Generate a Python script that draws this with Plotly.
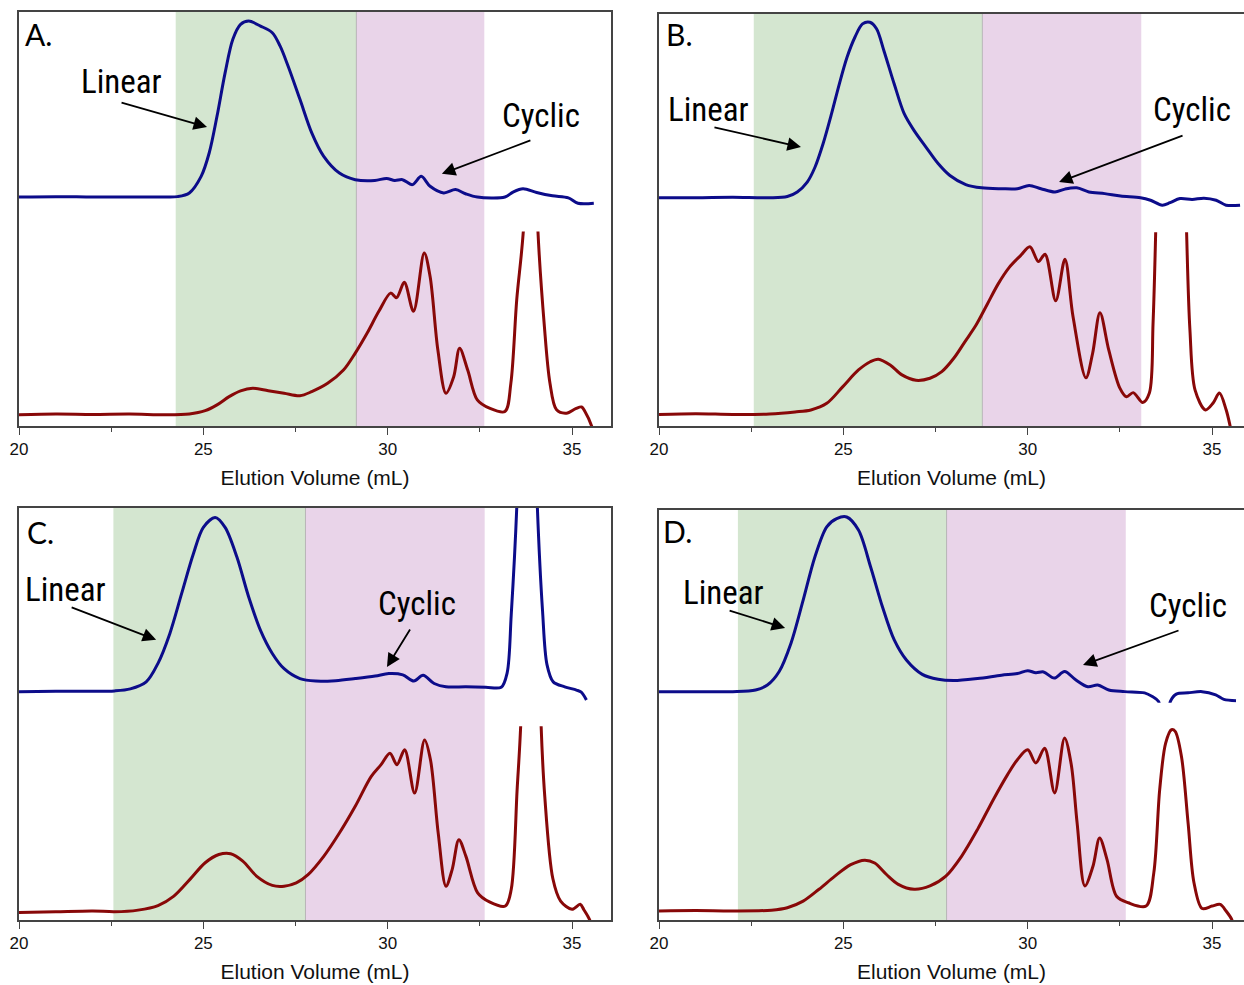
import plotly.graph_objects as go

# ======================= DATA =======================
# Signals are in "percent of panel height" units (0 = x-axis line, 100 = top frame).

# ---- Panel A ----
A_blue_x = [20.0, 21.0, 22.0, 23.0, 24.0, 24.3, 24.62, 24.94, 25.16, 25.37, 25.59, 25.8, 26.01, 26.23,
            26.55, 26.87, 27.08, 27.3, 27.62, 27.94, 28.26, 28.69, 29.12, 29.65, 29.97, 30.19, 30.4,
            30.67, 30.91, 31.15, 31.52, 31.84, 32.11, 32.43, 33.18, 33.4, 33.67, 34.04, 34.47, 34.9,
            35.16, 35.59]
A_blue_y = [55.3, 55.4, 55.3, 55.3, 55.3, 55.4, 56.3, 60.3, 66.0, 74.8, 85.3, 93.4, 97.0, 97.8,
            96.6, 95.0, 91.8, 86.9, 78.9, 70.8, 65.2, 61.1, 59.5, 59.3, 59.8, 59.3, 59.5,
            58.3, 60.3, 57.9, 56.3, 57.1, 56.1, 55.3, 55.3, 56.5, 57.3, 56.4, 55.6, 55.1,
            53.8, 53.8]
A_red_x = [20.0, 21.0, 22.0, 23.0, 24.0, 24.62, 25.05, 25.37, 25.7, 26.01, 26.34, 26.76, 27.19, 27.62,
           27.94, 28.37, 28.8, 29.12, 29.44, 29.76, 30.08, 30.24, 30.45, 30.7, 30.99, 31.15, 31.36,
           31.58, 31.79, 31.95, 32.17, 32.43, 32.76, 33.18, 33.34, 33.5, 33.7, 33.88, 34.06, 34.25,
           34.4, 34.58, 34.85, 35.1, 35.26, 35.35, 35.53, 35.6]
A_red_y = [2.7, 2.9, 2.8, 2.9, 2.7, 2.9, 3.7, 5.1, 7.1, 8.5, 9.1, 8.5, 7.9, 7.3,
           8.3, 10.3, 13.5, 17.6, 22.4, 27.7, 32.1, 31.0, 34.7, 27.7, 41.8, 36.1, 18.4,
           7.9, 11.9, 18.8, 13.5, 6.3, 4.3, 3.5, 10.3, 30.5, 50.0, 150.0, 50.0, 24.0,
           10.4, 3.9, 3.1, 4.2, 4.6, 3.5, 0.0, -3.0]

# ---- Panel B ----
B_blue_x = [20.0, 21.0, 22.0, 23.0, 23.48, 23.75, 24.02, 24.23, 24.45, 24.68, 24.89, 25.1, 25.31, 25.52,
            25.72, 25.9, 26.1, 26.38, 26.65, 26.92, 27.24, 27.57, 27.89, 28.32, 28.75, 29.29, 29.72,
            30.04, 30.36, 30.74, 31.01, 31.33, 31.66, 32.09, 32.52, 33.06, 33.33, 33.65, 33.86, 34.13,
            34.46, 34.78, 35.11, 35.38, 35.76]
B_blue_y = [55.4, 55.4, 55.5, 55.4, 55.7, 56.8, 59.2, 62.8, 68.5, 75.8, 83.0, 89.5, 94.3, 97.6,
            98.0, 96.4, 91.1, 83.0, 75.8, 71.7, 67.7, 63.7, 60.8, 58.6, 57.8, 57.6, 57.6,
            58.4, 57.6, 56.8, 57.5, 57.8, 56.8, 56.4, 55.8, 55.4, 54.8, 53.6, 54.2, 55.2,
            55.0, 55.3, 54.8, 53.6, 53.6]
B_red_x = [20.0, 21.0, 22.0, 23.0, 23.69, 24.12, 24.55, 24.98, 25.41, 25.73, 25.95, 26.27, 26.59, 26.97,
           27.35, 27.67, 28.0, 28.3, 28.6, 28.9, 29.2, 29.5, 29.8, 30.06, 30.29, 30.47, 30.76,
           31.01, 31.23, 31.58, 31.76, 31.96, 32.2, 32.5, 32.68, 32.86, 33.12, 33.3, 33.4, 33.48,
           33.88, 34.3, 34.4, 34.54, 34.82, 35.03, 35.2, 35.38, 35.49, 35.6]
B_red_y = [2.8, 3.0, 2.8, 2.9, 3.4, 3.9, 5.5, 9.5, 13.6, 15.6, 16.2, 14.8, 12.4, 11.1,
           11.6, 13.2, 16.5, 20.5, 24.5, 29.5, 34.5, 38.5, 41.3, 43.5, 39.9, 41.7, 30.4,
           40.5, 26.5, 11.7, 17.6, 27.5, 18.4, 9.2, 7.1, 8.1, 5.7, 8.0, 25.0, 50.0,
           200.0, 50.0, 23.3, 8.7, 3.9, 5.6, 8.0, 4.0, 0.0, -5.0]

# ---- Panel C ----
C_blue_x = [20.0, 21.0, 22.0, 22.59, 23.02, 23.45, 23.77, 24.09, 24.41, 24.73, 25.0, 25.32, 25.59, 25.91,
            26.23, 26.55, 26.87, 27.19, 27.62, 28.05, 28.59, 29.12, 29.66, 30.03, 30.41, 30.71, 30.96,
            31.26, 31.58, 32.12, 32.66, 33.08, 33.24, 33.35, 33.5, 33.78, 34.06, 34.2, 34.32, 34.49,
            34.8, 35.12, 35.25, 35.39]
C_blue_y = [55.4, 55.5, 55.5, 55.6, 56.1, 57.8, 62.3, 69.5, 79.2, 88.9, 95.3, 97.7, 95.3, 88.1,
            78.4, 70.3, 64.7, 61.0, 58.6, 58.0, 58.1, 58.6, 59.2, 59.8, 59.5, 58.0, 59.4,
            57.4, 56.6, 56.6, 56.5, 56.5, 60.0, 74.0, 100.0, 190.0, 100.0, 75.0, 62.0, 57.8,
            56.6, 55.8, 55.3, 53.4]
C_red_x = [20.0, 21.0, 22.0, 22.59, 23.23, 23.77, 24.2, 24.63, 25.05, 25.42, 25.74, 26.07, 26.45, 26.87,
           27.19, 27.52, 27.84, 28.27, 28.69, 29.12, 29.55, 29.82, 30.06, 30.25, 30.46, 30.73, 31.0,
           31.16, 31.37, 31.58, 31.75, 31.93, 32.12, 32.44, 32.76, 33.19, 33.35, 33.51, 33.62, 33.9,
           34.15, 34.26, 34.48, 34.69, 35.0, 35.22, 35.32, 35.48, 35.6]
C_red_y = [1.8, 2.0, 2.2, 2.0, 2.4, 3.5, 5.8, 9.8, 13.9, 15.9, 16.1, 14.3, 10.6, 8.4,
           8.2, 9.0, 11.0, 15.5, 21.1, 27.6, 34.8, 37.7, 40.5, 37.7, 41.3, 30.8, 43.7,
           38.9, 21.1, 8.2, 12.3, 19.5, 15.5, 6.6, 4.4, 3.4, 7.4, 31.6, 50.0, 180.0,
           50.0, 30.0, 10.0, 4.6, 2.6, 3.8, 2.5, 0.0, -4.0]

# ---- Panel D ----
D_blue_x = [20.0, 21.0, 22.0, 22.62, 22.94, 23.26, 23.58, 23.91, 24.23, 24.55, 24.82, 25.09, 25.41, 25.74,
            26.06, 26.38, 26.71, 27.14, 27.57, 28.0, 28.64, 29.29, 29.72, 30.0, 30.22, 30.43, 30.72,
            31.0, 31.3, 31.63, 31.9, 32.2, 32.63, 33.17, 33.38, 33.55, 33.65, 33.77, 33.87, 34.03,
            34.35, 34.73, 35.1, 35.32, 35.65]
D_blue_y = [55.7, 55.7, 55.7, 56.1, 57.3, 60.6, 67.5, 78.0, 88.6, 95.9, 97.9, 98.3, 95.1, 86.1,
            76.4, 68.3, 63.4, 59.9, 58.7, 58.4, 58.9, 59.7, 60.1, 60.8, 60.3, 60.5, 59.0,
            60.6, 58.6, 56.9, 57.3, 56.1, 55.7, 55.4, 54.5, 53.3, 48.0, 48.0, 53.3, 55.1,
            55.4, 55.7, 54.9, 53.8, 53.5]
D_red_x = [20.0, 21.0, 22.0, 23.05, 23.48, 23.91, 24.34, 24.77, 25.2, 25.58, 25.85, 26.17, 26.49, 26.92,
           27.35, 27.78, 28.21, 28.64, 29.07, 29.45, 29.72, 30.0, 30.22, 30.46, 30.73, 31.0, 31.18,
           31.34, 31.55, 31.77, 31.95, 32.15, 32.41, 32.73, 33.21, 33.42, 33.58, 33.74, 33.9, 34.0,
           34.17, 34.35, 34.51, 34.73, 35.0, 35.22, 35.38, 35.54, 35.6]
D_red_y = [2.2, 2.3, 2.2, 2.4, 3.0, 4.6, 7.5, 10.7, 13.5, 14.6, 13.9, 11.1, 8.7, 7.5,
           8.3, 10.7, 15.6, 22.1, 29.4, 35.4, 39.1, 41.5, 38.3, 41.9, 31.0, 44.4, 38.0,
           23.7, 8.3, 13.1, 20.0, 14.8, 5.8, 4.2, 3.4, 11.5, 31.8, 43.1, 46.4, 46.0,
           39.9, 23.7, 9.1, 2.8, 3.4, 3.8, 2.2, 0.0, -3.0]

# Shaded fractions: [green start, green/pink boundary, pink end] (mL)
A_regions = [24.25, 29.15, 32.62]
B_regions = [22.57, 28.77, 33.08]
C_regions = [22.56, 27.77, 32.63]
D_regions = [22.14, 27.80, 32.66]

panel_labels = ["A.", "B.", "C.", "D."]
x_ticks = [20, 25, 30, 35]
x_title = "Elution Volume (mL)"

# ======================= LAYOUT / STYLE =======================
W, H = 1244, 985
BLUE = "#0c0c8a"
RED = "#880808"
GREEN = "#d4e6d0"
PINK = "#e9d4e9"
FRAME = "#444444"
PX_PER_ML = 36.87

# pixel boxes of the four panels (left, right, top, bottom)
boxes = [(19, 611, 12, 426), (659, 1244, 14, 426), (19, 611, 508, 920), (659, 1244, 510, 920)]
BLUE_LOW = 0.53   # blue trace lives in upper 47% of a panel
RED_HIGH = 0.47   # red trace lives in lower 47% of a panel

panels = [
    (A_blue_x, A_blue_y, A_red_x, A_red_y, A_regions),
    (B_blue_x, B_blue_y, B_red_x, B_red_y, B_regions),
    (C_blue_x, C_blue_y, C_red_x, C_red_y, C_regions),
    (D_blue_x, D_blue_y, D_red_x, D_red_y, D_regions),
]

# annotation placement (data units of each panel; y in 0..100)
label_pos = [(20.52, 94.7), (20.54, 95.1), (20.57, 94.2), (20.49, 94.9)]
linear_text = [(22.77, 83.1), (21.33, 76.7), (21.27, 80.1), (21.74, 79.8)]
linear_arrow = [(25.10, 72.2, -87, -25), (23.85, 67.7, -88, -20), (23.72, 68.0, -86, -33), (23.42, 71.2, -57, -18)]
cyclic_text = [(34.16, 74.9), (34.46, 76.7), (30.79, 76.9), (34.35, 76.8)]
cyclic_arrow = [(31.47, 60.9, 90, -34), (30.85, 59.2, 125, -47), (29.98, 61.4, 24, -39), (31.50, 62.2, 97, -35)]

fig = go.Figure()
layout = dict(width=W, height=H, margin=dict(l=0, r=0, t=0, b=0, autoexpand=False), showlegend=False,
              paper_bgcolor="white", plot_bgcolor="rgba(0,0,0,0)")
shapes, annotations = [], []

TICK_FONT = dict(family="Liberation Sans, Arial, sans-serif", size=17, color="#111")
TITLE_FONT = dict(family="Liberation Sans, Arial, sans-serif", size=21, color="#111")
NARROW = "Liberation Sans Narrow, Arial Narrow, Roboto Condensed, Liberation Sans, sans-serif"
LABEL_FONT = dict(family="Lato, Open Sans, sans-serif", size=30, color="black")

for i, (bx, by, rx, ry, reg) in enumerate(panels):
    n = i + 1
    l, r, t, b = boxes[i]
    xd = [l / W, r / W]
    y_bot, y_top = 1 - b / H, 1 - t / H
    hgt = y_top - y_bot
    xmax = 20 + (r - l) / PX_PER_ML
    xname = "x" if n == 1 else f"x{n}"
    xa = "xaxis" if n == 1 else f"xaxis{n}"
    fy = n          # frame axis
    byx = n + 4     # blue axis
    ryx = n + 8     # red axis
    fname = "y" if fy == 1 else f"y{fy}"
    layout[xa] = dict(domain=xd, range=[20, xmax], anchor=fname, tickmode="array", tickvals=x_ticks,
                      ticks="outside", ticklen=7, tickwidth=1.3, tickcolor=FRAME,
                      minor=dict(ticks="outside", dtick=2.5, tick0=20, ticklen=4, tickwidth=1.3, tickcolor=FRAME),
                      showline=True, linecolor=FRAME, linewidth=1.5, mirror=True, showgrid=False,
                      zeroline=False, tickfont=TICK_FONT, automargin=False,
                      title=dict(text=x_title, font=TITLE_FONT, standoff=12))
    layout["yaxis" if fy == 1 else f"yaxis{fy}"] = dict(
        domain=[y_bot, y_top], range=[0, 100], anchor=xname, showline=True, linecolor=FRAME,
        linewidth=1.5, mirror=True, showticklabels=False, ticks="", showgrid=False, zeroline=False,
        automargin=False)
    layout[f"yaxis{byx}"] = dict(domain=[y_bot + BLUE_LOW * hgt, y_top], range=[BLUE_LOW * 100, 100],
                                 anchor=xname, visible=False, showgrid=False, zeroline=False)
    layout[f"yaxis{ryx}"] = dict(domain=[y_bot, y_bot + RED_HIGH * hgt], range=[0, RED_HIGH * 100],
                                 anchor=xname, visible=False, showgrid=False, zeroline=False)

    fig.add_trace(go.Scatter(x=bx, y=by, xaxis=xname, yaxis=f"y{byx}", mode="lines",
                             line=dict(color=BLUE, width=3, shape="spline", smoothing=0.9),
                             hoverinfo="skip"))
    fig.add_trace(go.Scatter(x=rx, y=ry, xaxis=xname, yaxis=f"y{ryx}", mode="lines",
                             line=dict(color=RED, width=3, shape="spline", smoothing=0.9),
                             hoverinfo="skip"))

    shapes.append(dict(type="rect", xref=xname, yref="paper", x0=reg[0], x1=reg[1], y0=y_bot, y1=y_top,
                       fillcolor=GREEN, line=dict(width=0), layer="below"))
    shapes.append(dict(type="rect", xref=xname, yref="paper", x0=reg[1], x1=reg[2], y0=y_bot, y1=y_top,
                       fillcolor=PINK, line=dict(width=0), layer="below"))
    shapes.append(dict(type="line", xref=xname, yref="paper", x0=reg[1], x1=reg[1], y0=y_bot, y1=y_top,
                       line=dict(width=1, color="rgba(150,150,150,0.6)"), layer="below"))

    annotations.append(dict(text=panel_labels[i], x=label_pos[i][0], y=label_pos[i][1], xref=xname,
                            yref=fname, showarrow=False, font=LABEL_FONT))
    annotations.append(dict(text="Linear", x=linear_text[i][0], y=linear_text[i][1], xref=xname,
                            yref=fname, showarrow=False, font=dict(family=NARROW, size=33, color="black")))
    annotations.append(dict(text="Cyclic", x=cyclic_text[i][0], y=cyclic_text[i][1], xref=xname,
                            yref=fname, showarrow=False, font=dict(family=NARROW, size=33, color="black")))
    for (tx, ty, ax, ay) in (linear_arrow[i], cyclic_arrow[i]):
        annotations.append(dict(text="", x=tx, y=ty, xref=xname, yref=fname, ax=ax, ay=ay,
                                axref="pixel", ayref="pixel", showarrow=True, arrowhead=2,
                                arrowsize=1.5, arrowwidth=1.8, arrowcolor="black"))

layout["shapes"] = shapes
layout["annotations"] = annotations
fig.update_layout(**layout)
fig.write_html("out.html")
